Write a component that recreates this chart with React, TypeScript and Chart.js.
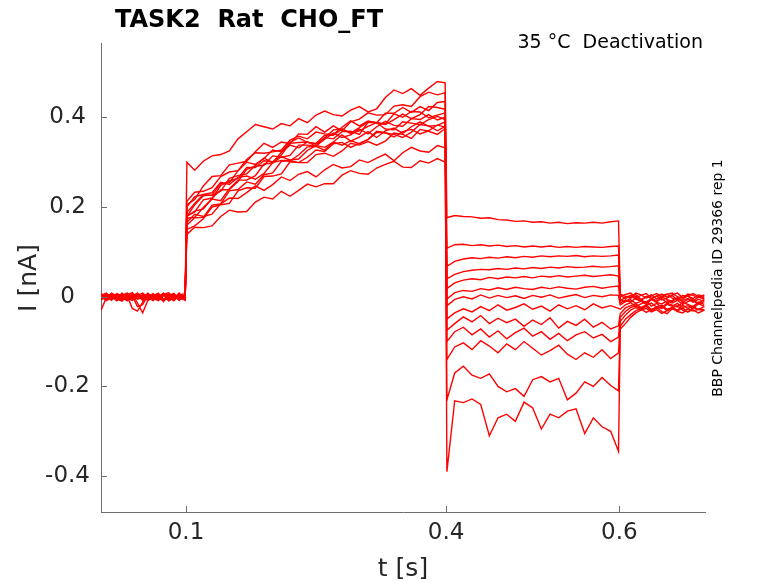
import { useEffect, useRef } from "react"
import Chart from "chart.js/auto"

// sample times (s) for the four protocol segments
const tBase = [0.002, 0.008, 0.014, 0.02, 0.026, 0.032, 0.038, 0.044, 0.05, 0.056, 0.062, 0.068, 0.074, 0.08, 0.086, 0.092, 0.099]
const tAct = [
  0.101, 0.11, 0.12, 0.13, 0.14, 0.15, 0.16, 0.17, 0.18, 0.19, 0.2, 0.21, 0.22, 0.23, 0.24, 0.25,
  0.26, 0.27, 0.28, 0.29, 0.3, 0.31, 0.32, 0.33, 0.34, 0.35, 0.36, 0.37, 0.38, 0.39, 0.399,
]
const tDeact = [
  0.401, 0.41, 0.42, 0.43, 0.44, 0.45, 0.46, 0.47, 0.48, 0.49, 0.5, 0.51, 0.52, 0.53, 0.54, 0.55,
  0.56, 0.57, 0.58, 0.59, 0.599,
]
const tTail = [0.601, 0.607, 0.613, 0.619, 0.625, 0.631, 0.637, 0.643, 0.649, 0.655, 0.661, 0.667, 0.673, 0.679, 0.685, 0.691, 0.698]

// current (nA) per sweep
const baseline = [
  [0.004, 0.007, -0.002, -0.006, 0.003, 0.008, 0.001, -0.005, -0.003, 0.006, 0.002, -0.007, 0.005, 0.009, -0.001, -0.004, 0.003],
  [-0.005, 0.002, 0.006, -0.008, -0.003, 0.004, -0.007, 0.003, 0.008, -0.002, -0.009, 0.001, 0.006, -0.004, 0.007, -0.006, -0.002],
  [0.002, -0.009, -0.003, 0.005, -0.006, 0.002, -0.026, -0.032, -0.012, 0.006, -0.004, 0.003, -0.008, 0.004, -0.002, 0.007, -0.005],
  [-0.03, -0.002, 0.005, -0.007, 0.008, -0.003, -0.008, 0.004, 0.0, -0.006, 0.006, -0.003, -0.009, 0.005, -0.006, 0.002, -0.004],
  [0.006, 0.001, -0.007, 0.004, -0.002, -0.009, 0.005, -0.014, -0.036, -0.008, 0.003, 0.007, -0.005, -0.001, 0.006, -0.008, 0.004],
  [-0.008, 0.006, 0.002, -0.004, -0.01, 0.004, 0.009, -0.005, 0.002, -0.007, 0.005, -0.002, 0.008, -0.009, -0.003, 0.004, 0.007],
  [0.003, -0.004, 0.008, 0.002, -0.008, -0.002, 0.006, 0.001, -0.006, 0.007, -0.003, -0.009, 0.003, 0.006, -0.005, 0.008, -0.007],
  [-0.003, 0.008, -0.006, -0.001, 0.005, -0.008, 0.003, 0.007, -0.009, 0.004, -0.003, 0.005, -0.007, 0.002, -0.008, 0.001, -0.005],
  [0.007, -0.006, 0.001, -0.009, 0.006, -0.003, 0.002, -0.022, -0.018, 0.004, -0.007, 0.006, -0.011, 0.003, 0.007, -0.004, 0.005],
  [-0.001, 0.005, -0.008, 0.007, 0.002, -0.006, -0.004, 0.006, -0.002, 0.008, -0.006, 0.001, 0.006, -0.009, 0.004, -0.002, -0.008],
  [0.005, -0.003, 0.006, -0.005, -0.009, 0.003, -0.002, 0.008, -0.007, -0.001, 0.007, -0.008, 0.002, -0.003, -0.007, 0.006, 0.0],
  [-0.007, 0.003, -0.005, 0.006, 0.002, -0.008, 0.007, -0.004, 0.005, -0.009, 0.0, 0.008, -0.006, -0.005, 0.004, -0.008, 0.003],
  [0.0, -0.008, 0.004, 0.001, -0.005, 0.007, -0.007, 0.002, -0.002, 0.005, -0.006, -0.003, 0.007, -0.001, -0.009, 0.005, -0.004],
]

const activation = [
  [0.3, 0.282, 0.302, 0.314, 0.317, 0.325, 0.352, 0.368, 0.384, 0.379, 0.374, 0.386, 0.381, 0.397, 0.388, 0.405, 0.414, 0.406, 0.403, 0.416, 0.424, 0.412, 0.419, 0.444, 0.461, 0.453, 0.464, 0.449, 0.465, 0.48, 0.477],
  [0.213, 0.233, 0.235, 0.243, 0.268, 0.278, 0.281, 0.306, 0.321, 0.32, 0.323, 0.327, 0.349, 0.358, 0.352, 0.367, 0.363, 0.362, 0.378, 0.392, 0.381, 0.392, 0.388, 0.409, 0.409, 0.422, 0.411, 0.424, 0.415, 0.433, 0.435],
  [0.188, 0.208, 0.228, 0.226, 0.235, 0.264, 0.27, 0.274, 0.293, 0.309, 0.299, 0.322, 0.338, 0.332, 0.345, 0.336, 0.351, 0.365, 0.355, 0.361, 0.374, 0.363, 0.379, 0.391, 0.382, 0.38, 0.397, 0.395, 0.406, 0.394, 0.4],
  [0.175, 0.177, 0.199, 0.218, 0.214, 0.241, 0.26, 0.26, 0.27, 0.296, 0.298, 0.312, 0.305, 0.307, 0.326, 0.337, 0.333, 0.345, 0.361, 0.347, 0.356, 0.368, 0.355, 0.37, 0.376, 0.364, 0.379, 0.39, 0.38, 0.382, 0.39],
  [0.2, 0.223, 0.228, 0.232, 0.255, 0.25, 0.266, 0.269, 0.262, 0.275, 0.299, 0.304, 0.303, 0.316, 0.334, 0.335, 0.327, 0.345, 0.338, 0.348, 0.341, 0.351, 0.369, 0.365, 0.362, 0.355, 0.367, 0.384, 0.381, 0.37, 0.38],
  [0.16, 0.176, 0.177, 0.204, 0.207, 0.236, 0.239, 0.256, 0.251, 0.272, 0.276, 0.302, 0.303, 0.299, 0.311, 0.327, 0.324, 0.341, 0.344, 0.333, 0.342, 0.35, 0.366, 0.366, 0.356, 0.368, 0.373, 0.363, 0.37, 0.383, 0.378],
  [0.18, 0.189, 0.216, 0.22, 0.238, 0.239, 0.257, 0.284, 0.291, 0.293, 0.314, 0.311, 0.315, 0.338, 0.338, 0.336, 0.355, 0.352, 0.368, 0.369, 0.362, 0.389, 0.388, 0.384, 0.395, 0.407, 0.397, 0.406, 0.424, 0.422, 0.418],
  [0.15, 0.158, 0.174, 0.2, 0.205, 0.208, 0.236, 0.243, 0.242, 0.268, 0.269, 0.274, 0.301, 0.299, 0.299, 0.317, 0.32, 0.313, 0.325, 0.342, 0.338, 0.346, 0.338, 0.347, 0.365, 0.362, 0.353, 0.373, 0.369, 0.362, 0.375],
  [0.205, 0.217, 0.247, 0.268, 0.27, 0.294, 0.298, 0.302, 0.323, 0.342, 0.333, 0.345, 0.341, 0.363, 0.362, 0.379, 0.367, 0.381, 0.37, 0.39, 0.396, 0.41, 0.405, 0.406, 0.425, 0.428, 0.424, 0.446, 0.456, 0.45, 0.455],
  [0.179, 0.205, 0.225, 0.227, 0.252, 0.254, 0.281, 0.3, 0.295, 0.308, 0.327, 0.323, 0.344, 0.354, 0.344, 0.342, 0.36, 0.36, 0.374, 0.364, 0.37, 0.38, 0.388, 0.374, 0.372, 0.39, 0.387, 0.384, 0.395, 0.402, 0.395],
  [0.166, 0.184, 0.179, 0.184, 0.207, 0.22, 0.219, 0.232, 0.247, 0.237, 0.25, 0.267, 0.259, 0.273, 0.279, 0.267, 0.283, 0.295, 0.287, 0.29, 0.305, 0.299, 0.309, 0.318, 0.303, 0.321, 0.333, 0.325, 0.322, 0.337, 0.332],
  [0.139, 0.155, 0.154, 0.158, 0.179, 0.193, 0.189, 0.19, 0.211, 0.222, 0.218, 0.235, 0.224, 0.237, 0.251, 0.245, 0.252, 0.252, 0.271, 0.281, 0.275, 0.273, 0.287, 0.295, 0.302, 0.289, 0.288, 0.303, 0.298, 0.308, 0.3],
  [0.179, 0.191, 0.196, 0.219, 0.248, 0.258, 0.264, 0.288, 0.288, 0.303, 0.301, 0.316, 0.342, 0.344, 0.345, 0.34, 0.354, 0.372, 0.374, 0.365, 0.377, 0.39, 0.388, 0.385, 0.408, 0.4, 0.413, 0.412, 0.399, 0.405, 0.41],
]

const deactivation = [
  [0.176, 0.181, 0.179, 0.178, 0.175, 0.176, 0.172, 0.171, 0.168, 0.169, 0.166, 0.167, 0.164, 0.166, 0.163, 0.165, 0.164, 0.166, 0.164, 0.167, 0.169],
  [0.108, 0.116, 0.117, 0.114, 0.116, 0.113, 0.115, 0.112, 0.114, 0.111, 0.113, 0.111, 0.113, 0.11, 0.112, 0.11, 0.112, 0.111, 0.11, 0.112, 0.113],
  [0.068, 0.079, 0.084, 0.087, 0.085, 0.088, 0.086, 0.089, 0.087, 0.09, 0.088, 0.091, 0.089, 0.091, 0.09, 0.092, 0.089, 0.091, 0.09, 0.091, 0.093],
  [0.04, 0.05, 0.056, 0.059, 0.061, 0.06, 0.063, 0.061, 0.064, 0.062, 0.065, 0.063, 0.066, 0.064, 0.067, 0.065, 0.066, 0.068, 0.066, 0.067, 0.069],
  [0.018, 0.031, 0.037, 0.04, 0.038, 0.043, 0.04, 0.044, 0.042, 0.045, 0.042, 0.046, 0.044, 0.047, 0.044, 0.046, 0.048, 0.045, 0.047, 0.049, 0.046],
  [-0.005, 0.009, 0.014, 0.012, 0.018, 0.015, 0.02, 0.016, 0.021, 0.018, 0.016, 0.021, 0.018, 0.022, 0.019, 0.017, 0.021, 0.023, 0.019, 0.022, 0.024],
  [-0.02, -0.006, 0.0, -0.005, 0.004, -0.003, 0.003, -0.002, 0.002, -0.004, 0.003, -0.001, 0.004, -0.003, 0.001, 0.005, -0.002, 0.003, 0.0, 0.004, 0.003],
  [-0.05, -0.036, -0.027, -0.034, -0.022, -0.031, -0.018, -0.03, -0.024, -0.016, -0.028, -0.021, -0.032, -0.018, -0.027, -0.02, -0.029, -0.016, -0.025, -0.02, -0.026],
  [-0.075, -0.06, -0.045, -0.056, -0.042, -0.06, -0.048, -0.058, -0.05, -0.066, -0.052, -0.062, -0.047, -0.07, -0.055, -0.064, -0.05, -0.068, -0.057, -0.072, -0.065],
  [-0.1, -0.078, -0.068, -0.085, -0.072, -0.09, -0.076, -0.094, -0.08, -0.07, -0.088, -0.078, -0.095, -0.082, -0.098, -0.085, -0.078, -0.092, -0.084, -0.1, -0.09],
  [-0.14, -0.112, -0.103, -0.118, -0.098, -0.11, -0.125, -0.105, -0.118, -0.1, -0.115, -0.13, -0.12, -0.108, -0.128, -0.14, -0.125, -0.135, -0.118, -0.138, -0.125],
  [-0.23, -0.17, -0.155, -0.175, -0.182, -0.172, -0.2, -0.212, -0.205, -0.222, -0.185, -0.178, -0.19, -0.182, -0.23, -0.215, -0.19, -0.2, -0.18, -0.198, -0.21],
  [-0.39, -0.232, -0.236, -0.228, -0.24, -0.31, -0.27, -0.262, -0.278, -0.235, -0.248, -0.295, -0.262, -0.27, -0.255, -0.25, -0.305, -0.27, -0.29, -0.3, -0.345],
]

const tail = [
  [0.006, 0.001, -0.002, 0.008, 0.004, -0.003, 0.002, 0.007, -0.001, 0.005, 0.008, 0.0, -0.003, 0.006, 0.003, -0.002, 0.004],
  [0.0, 0.005, 0.008, -0.002, 0.003, 0.007, -0.004, 0.001, 0.006, -0.001, 0.004, 0.008, -0.002, 0.002, 0.007, 0.001, -0.002],
  [0.003, -0.004, 0.002, 0.005, -0.006, -0.001, 0.004, -0.005, 0.002, 0.006, -0.003, -0.007, 0.003, 0.001, -0.004, 0.004, 0.001],
  [-0.008, -0.002, 0.003, -0.006, -0.009, 0.001, -0.004, 0.002, -0.007, -0.003, 0.003, -0.008, -0.005, 0.002, -0.009, -0.001, -0.005],
  [-0.006, -0.011, -0.003, 0.001, -0.008, -0.012, -0.004, -0.009, 0.0, -0.006, -0.011, -0.002, -0.008, -0.004, -0.012, -0.006, -0.01],
  [-0.014, -0.007, -0.012, -0.003, -0.009, -0.013, -0.005, -0.011, -0.004, -0.014, -0.008, -0.003, -0.012, -0.006, -0.01, -0.014, -0.006],
  [-0.018, -0.011, -0.007, -0.015, -0.01, -0.017, -0.006, -0.013, -0.016, -0.009, -0.014, -0.008, -0.017, -0.011, -0.007, -0.016, -0.011],
  [-0.028, -0.018, -0.013, -0.022, -0.016, -0.011, -0.021, -0.015, -0.024, -0.014, -0.019, -0.023, -0.013, -0.017, -0.022, -0.012, -0.017],
  [-0.038, -0.025, -0.02, -0.016, -0.024, -0.019, -0.014, -0.023, -0.026, -0.017, -0.021, -0.015, -0.024, -0.02, -0.026, -0.016, -0.021],
  [-0.046, -0.033, -0.024, -0.02, -0.027, -0.018, -0.029, -0.022, -0.019, -0.028, -0.024, -0.03, -0.019, -0.026, -0.021, -0.029, -0.022],
  [-0.055, -0.041, -0.03, -0.024, -0.029, -0.021, -0.032, -0.026, -0.022, -0.031, -0.025, -0.02, -0.03, -0.034, -0.024, -0.028, -0.03],
  [-0.066, -0.05, -0.04, -0.031, -0.027, -0.035, -0.028, -0.024, -0.033, -0.038, -0.027, -0.032, -0.025, -0.034, -0.029, -0.036, -0.03],
  [-0.072, -0.06, -0.046, -0.036, -0.03, -0.026, -0.034, -0.029, -0.037, -0.031, -0.025, -0.033, -0.036, -0.027, -0.032, -0.028, -0.029],
]

const xTicks = [0.1, 0.4, 0.6]
const yTicks = [-0.4, -0.2, 0, 0.2, 0.4]

const FONT = "DejaVu Sans"
const AXIS_COLOR = "#6e6e6e"
const TEXT_COLOR = "#262626"

const fmt = (v: number) => String(Number(v.toFixed(2)))

// titles, side note and inward tick marks (MATLAB look)
const decorations = {
  id: "decorations",
  afterDatasetsDraw(chart: any) {
    const { ctx, chartArea, scales } = chart
    ctx.save()
    ctx.strokeStyle = AXIS_COLOR
    ctx.lineWidth = 1
    ctx.beginPath()
    xTicks.forEach((v) => {
      const px = Math.round(scales.x.getPixelForValue(v)) + 0.5
      ctx.moveTo(px, chartArea.bottom)
      ctx.lineTo(px, chartArea.bottom - 6)
    })
    yTicks.forEach((v) => {
      const py = Math.round(scales.y.getPixelForValue(v)) + 0.5
      ctx.moveTo(chartArea.left, py)
      ctx.lineTo(chartArea.left + 6, py)
    })
    ctx.stroke()
    ctx.restore()
  },
  afterDraw(chart: any) {
    const { ctx } = chart
    ctx.save()
    ctx.fillStyle = "#000"
    ctx.textBaseline = "alphabetic"

    ctx.font = `bold 24px "${FONT}"`
    ctx.textAlign = "left"
    ctx.fillText("TASK2  Rat  CHO_FT", 115, 27)

    ctx.font = `19px "${FONT}"`
    ctx.textAlign = "right"
    ctx.fillText("35 °C  Deactivation", 703, 48)

    ctx.fillStyle = TEXT_COLOR
    ctx.font = `25px "${FONT}"`
    ctx.textAlign = "center"
    ctx.fillText("t [s]", 403, 576)

    ctx.save()
    ctx.translate(36, 278)
    ctx.rotate(-Math.PI / 2)
    ctx.fillText("I [nA]", 0, 0)
    ctx.restore()

    ctx.save()
    ctx.fillStyle = "#000"
    ctx.font = `14px "${FONT}"`
    ctx.translate(722, 278)
    ctx.rotate(-Math.PI / 2)
    ctx.fillText("BBP Channelpedia ID 29366 rep 1", 0, 0)
    ctx.restore()

    ctx.restore()
  },
}

export default function App() {
  const canvasRef = useRef<HTMLCanvasElement>(null)
  const chartRef = useRef<Chart | null>(null)

  useEffect(() => {
    if (!canvasRef.current) return
    if (chartRef.current) chartRef.current.destroy()

    const datasets = baseline.map((_, i) => ({
      data: [
        ...tBase.map((t, k) => ({ x: t, y: baseline[i][k] })),
        ...tAct.map((t, k) => ({ x: t, y: activation[i][k] })),
        ...tDeact.map((t, k) => ({ x: t, y: deactivation[i][k] })),
        ...tTail.map((t, k) => ({ x: t, y: tail[i][k] })),
      ],
      borderColor: "#ff0000",
      borderWidth: 1.4,
      pointRadius: 0,
      tension: 0,
      fill: false,
    }))

    chartRef.current = new Chart(canvasRef.current, {
      type: "line",
      data: { datasets },
      options: {
        animation: false,
        responsive: false,
        events: [],
        layout: { padding: { left: 0, right: 73, top: 43, bottom: 0 } },
        plugins: {
          legend: { display: false },
          tooltip: { enabled: false },
        },
        scales: {
          x: {
            type: "linear",
            min: 0.0019,
            max: 0.6988,
            afterFit: (s: any) => {
              s.height = 71
            },
            afterBuildTicks: (s: any) => {
              s.ticks = xTicks.map((v) => ({ value: v }))
            },
            grid: { display: false, drawTicks: false },
            border: { display: true, color: AXIS_COLOR, width: 1 },
            ticks: {
              padding: 7,
              color: TEXT_COLOR,
              font: { family: FONT, size: 23 },
              maxRotation: 0,
              autoSkip: false,
              callback: (v: any) => fmt(Number(v)),
            },
          },
          y: {
            type: "linear",
            min: -0.48,
            max: 0.5657,
            afterFit: (s: any) => {
              s.width = 101
            },
            afterBuildTicks: (s: any) => {
              s.ticks = yTicks.map((v) => ({ value: v }))
            },
            grid: { display: false, drawTicks: false },
            border: { display: true, color: AXIS_COLOR, width: 1 },
            ticks: {
              padding: 11,
              crossAlign: "center",
              color: TEXT_COLOR,
              font: { family: FONT, size: 23 },
              autoSkip: false,
              callback: (v: any) => fmt(Number(v)),
            },
          },
        },
      },
      plugins: [decorations],
    })

    return () => {
      if (chartRef.current) {
        chartRef.current.destroy()
        chartRef.current = null
      }
    }
  }, [])

  return (
    <div style={{ position: "fixed", left: 0, top: 0, width: 778, height: 583, background: "#fff" }}>
      <canvas ref={canvasRef} width={778} height={583}></canvas>
    </div>
  )
}
